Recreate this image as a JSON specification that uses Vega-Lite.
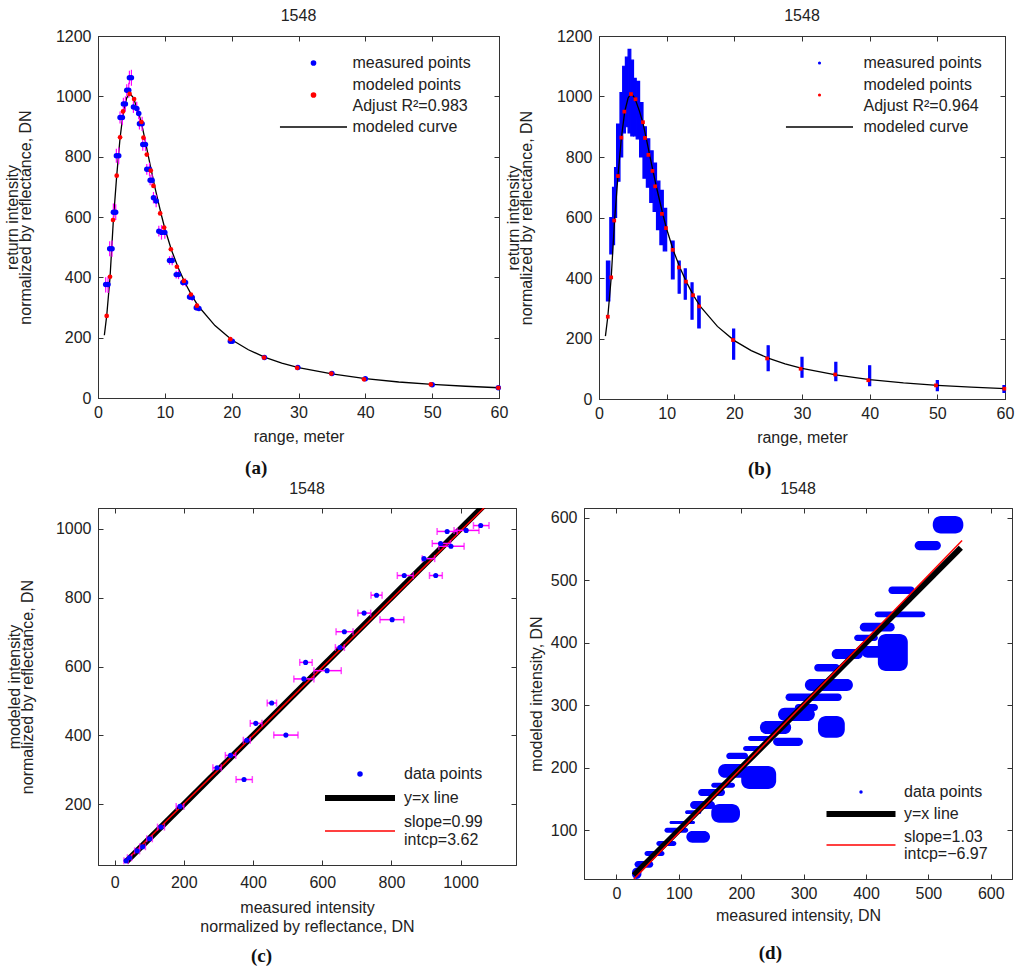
{
  "$schema": "https://vega.github.io/schema/vega-lite/v6.json",
  "background": "white",
  "padding": {"left": 3, "top": 7, "right": 2, "bottom": 2},
  "spacing": 1,
  "resolve": {"scale": {"color": "independent"}, "legend": {"color": "independent"}},
  "datasets": {
    "curve": [
      {"r": 0.95, "v": 208}, {"r": 1.3, "v": 272}, {"r": 1.8, "v": 400}, {"r": 2.3, "v": 590},
      {"r": 2.8, "v": 737}, {"r": 3.3, "v": 862}, {"r": 3.8, "v": 950}, {"r": 4.3, "v": 995},
      {"r": 4.75, "v": 1010}, {"r": 5.3, "v": 995}, {"r": 6, "v": 950}, {"r": 6.5, "v": 912},
      {"r": 7, "v": 860}, {"r": 7.5, "v": 805}, {"r": 8, "v": 752}, {"r": 8.5, "v": 700},
      {"r": 9, "v": 652}, {"r": 9.5, "v": 605}, {"r": 10, "v": 562}, {"r": 11, "v": 490},
      {"r": 12, "v": 432}, {"r": 13, "v": 383}, {"r": 14, "v": 341}, {"r": 15, "v": 305},
      {"r": 17.5, "v": 240}, {"r": 20, "v": 193}, {"r": 22.5, "v": 160}, {"r": 25, "v": 135},
      {"r": 27.5, "v": 116}, {"r": 30, "v": 101}, {"r": 35, "v": 80}, {"r": 40, "v": 64},
      {"r": 45, "v": 53}, {"r": 50, "v": 45}, {"r": 55, "v": 39}, {"r": 60, "v": 34}
    ],
    "a_meas": [
      {"r": 1.15, "v": 376, "lo": 350, "hi": 400}, {"r": 1.5, "v": 376, "lo": 348, "hi": 404},
      {"r": 1.75, "v": 495, "lo": 470, "hi": 520}, {"r": 2.1, "v": 495, "lo": 468, "hi": 522},
      {"r": 2.3, "v": 616, "lo": 585, "hi": 645}, {"r": 2.65, "v": 616, "lo": 590, "hi": 642},
      {"r": 2.75, "v": 803, "lo": 780, "hi": 826}, {"r": 3.1, "v": 803, "lo": 775, "hi": 830},
      {"r": 3.3, "v": 930, "lo": 910, "hi": 950}, {"r": 3.65, "v": 930, "lo": 905, "hi": 955},
      {"r": 3.8, "v": 975, "lo": 955, "hi": 995}, {"r": 4.1, "v": 975, "lo": 950, "hi": 1000},
      {"r": 4.3, "v": 1020, "lo": 1000, "hi": 1040}, {"r": 4.6, "v": 1020, "lo": 995, "hi": 1045},
      {"r": 4.7, "v": 1062, "lo": 1040, "hi": 1085}, {"r": 5.0, "v": 1062, "lo": 1035, "hi": 1088},
      {"r": 5.3, "v": 965, "lo": 945, "hi": 985}, {"r": 5.8, "v": 960, "lo": 938, "hi": 982},
      {"r": 6.1, "v": 943, "lo": 925, "hi": 962}, {"r": 6.2, "v": 909, "lo": 890, "hi": 928},
      {"r": 6.6, "v": 909, "lo": 885, "hi": 932}, {"r": 6.7, "v": 840, "lo": 820, "hi": 860},
      {"r": 7.1, "v": 840, "lo": 818, "hi": 862}, {"r": 7.3, "v": 758, "lo": 740, "hi": 776},
      {"r": 7.7, "v": 758, "lo": 735, "hi": 780}, {"r": 7.8, "v": 722, "lo": 705, "hi": 740},
      {"r": 8.1, "v": 722, "lo": 702, "hi": 742}, {"r": 8.3, "v": 664, "lo": 645, "hi": 683},
      {"r": 8.7, "v": 653, "lo": 632, "hi": 674}, {"r": 9.1, "v": 553, "lo": 535, "hi": 571},
      {"r": 9.5, "v": 549, "lo": 525, "hi": 573}, {"r": 10.0, "v": 549, "lo": 528, "hi": 570},
      {"r": 10.7, "v": 456, "lo": 442, "hi": 470}, {"r": 11.1, "v": 456, "lo": 440, "hi": 472},
      {"r": 11.7, "v": 409, "lo": 396, "hi": 422}, {"r": 12.05, "v": 409, "lo": 394, "hi": 424},
      {"r": 12.7, "v": 383, "lo": 372, "hi": 394}, {"r": 13.1, "v": 383, "lo": 370, "hi": 396},
      {"r": 13.7, "v": 335, "lo": 325, "hi": 345}, {"r": 14.1, "v": 333, "lo": 322, "hi": 344},
      {"r": 14.7, "v": 299, "lo": 290, "hi": 308}, {"r": 15.1, "v": 297, "lo": 288, "hi": 306},
      {"r": 19.8, "v": 188, "lo": 183, "hi": 193}, {"r": 20.1, "v": 188, "lo": 182, "hi": 194},
      {"r": 24.9, "v": 134, "lo": 130, "hi": 138}, {"r": 29.9, "v": 101, "lo": 98, "hi": 104},
      {"r": 35.0, "v": 81, "lo": 78, "hi": 84}, {"r": 40.0, "v": 64, "lo": 61, "hi": 67},
      {"r": 50.0, "v": 44, "lo": 42, "hi": 46}, {"r": 59.9, "v": 34, "lo": 32, "hi": 36}
    ],
    "a_mod": [
      {"r": 1.3, "v": 272}, {"r": 1.8, "v": 402}, {"r": 2.25, "v": 590}, {"r": 2.8, "v": 737},
      {"r": 3.3, "v": 864}, {"r": 3.75, "v": 950}, {"r": 4.73, "v": 1008}, {"r": 5.4, "v": 991},
      {"r": 6.5, "v": 915}, {"r": 6.8, "v": 863}, {"r": 7.3, "v": 807}, {"r": 7.9, "v": 754},
      {"r": 8.3, "v": 703}, {"r": 9.3, "v": 612}, {"r": 9.9, "v": 565}, {"r": 10.9, "v": 493},
      {"r": 11.8, "v": 435}, {"r": 12.85, "v": 388}, {"r": 13.9, "v": 343}, {"r": 14.8, "v": 306},
      {"r": 19.8, "v": 195}, {"r": 24.85, "v": 134}, {"r": 29.8, "v": 100}, {"r": 34.9, "v": 81},
      {"r": 39.8, "v": 62}, {"r": 49.8, "v": 45}, {"r": 59.9, "v": 34}
    ],
    "b_meas": [
      {"r1": 1.1, "r2": 1.6, "lo": 324, "hi": 456}, {"r1": 1.6, "r2": 2.0, "lo": 480, "hi": 600},
      {"r1": 2.0, "r2": 2.3, "lo": 510, "hi": 700}, {"r1": 2.3, "r2": 2.6, "lo": 600, "hi": 765},
      {"r1": 2.6, "r2": 3.1, "lo": 720, "hi": 909}, {"r1": 3.1, "r2": 3.5, "lo": 800, "hi": 1013},
      {"r1": 3.5, "r2": 3.9, "lo": 880, "hi": 1100}, {"r1": 3.9, "r2": 4.3, "lo": 900, "hi": 1130},
      {"r1": 4.3, "r2": 4.7, "lo": 880, "hi": 1156}, {"r1": 4.7, "r2": 5.1, "lo": 870, "hi": 1120},
      {"r1": 5.1, "r2": 5.5, "lo": 870, "hi": 1060}, {"r1": 5.5, "r2": 6.0, "lo": 860, "hi": 1050},
      {"r1": 6.0, "r2": 6.5, "lo": 800, "hi": 980}, {"r1": 6.5, "r2": 7.0, "lo": 730, "hi": 900},
      {"r1": 7.0, "r2": 7.5, "lo": 700, "hi": 860}, {"r1": 7.5, "r2": 8.0, "lo": 650, "hi": 820},
      {"r1": 8.0, "r2": 8.5, "lo": 620, "hi": 780}, {"r1": 8.5, "r2": 9.0, "lo": 560, "hi": 720},
      {"r1": 9.0, "r2": 9.5, "lo": 510, "hi": 690}, {"r1": 9.5, "r2": 10.0, "lo": 490, "hi": 630},
      {"r1": 10.7, "r2": 11.1, "lo": 397, "hi": 522}, {"r1": 11.7, "r2": 12.0, "lo": 350, "hi": 456},
      {"r1": 12.6, "r2": 12.9, "lo": 330, "hi": 430}, {"r1": 13.6, "r2": 13.9, "lo": 264, "hi": 384},
      {"r1": 14.6, "r2": 14.95, "lo": 235, "hi": 340}, {"r1": 19.75, "r2": 20.05, "lo": 132, "hi": 231},
      {"r1": 24.85, "r2": 25.15, "lo": 94, "hi": 176}, {"r1": 29.85, "r2": 30.15, "lo": 72, "hi": 138},
      {"r1": 34.85, "r2": 35.15, "lo": 61, "hi": 121}, {"r1": 39.85, "r2": 40.15, "lo": 44, "hi": 110},
      {"r1": 49.85, "r2": 50.15, "lo": 28, "hi": 61}, {"r1": 59.7, "r2": 60.0, "lo": 22, "hi": 44}
    ],
    "c_pts": [
      {"x": 33, "y": 36, "xlo": 27, "xhi": 39}, {"x": 43, "y": 45, "xlo": 37, "xhi": 49},
      {"x": 65, "y": 65, "xlo": 58, "xhi": 72}, {"x": 81, "y": 77, "xlo": 73, "xhi": 89},
      {"x": 101, "y": 100, "xlo": 93, "xhi": 109}, {"x": 134, "y": 134, "xlo": 124, "xhi": 144},
      {"x": 189, "y": 194, "xlo": 178, "xhi": 200}, {"x": 296, "y": 306, "xlo": 284, "xhi": 308},
      {"x": 335, "y": 342, "xlo": 320, "xhi": 350}, {"x": 374, "y": 272, "xlo": 351, "xhi": 398},
      {"x": 382, "y": 386, "xlo": 372, "xhi": 392}, {"x": 408, "y": 435, "xlo": 392, "xhi": 426},
      {"x": 454, "y": 494, "xlo": 441, "xhi": 468}, {"x": 495, "y": 401, "xlo": 460, "xhi": 530},
      {"x": 547, "y": 564, "xlo": 518, "xhi": 576}, {"x": 552, "y": 612, "xlo": 535, "xhi": 571},
      {"x": 614, "y": 588, "xlo": 576, "xhi": 655}, {"x": 651, "y": 655, "xlo": 638, "xhi": 664},
      {"x": 664, "y": 701, "xlo": 640, "xhi": 689}, {"x": 721, "y": 755, "xlo": 703, "xhi": 740},
      {"x": 757, "y": 807, "xlo": 741, "xhi": 773}, {"x": 802, "y": 736, "xlo": 767, "xhi": 836},
      {"x": 837, "y": 864, "xlo": 817, "xhi": 863}, {"x": 894, "y": 913, "xlo": 889, "xhi": 925},
      {"x": 928, "y": 864, "xlo": 910, "xhi": 947}, {"x": 942, "y": 957, "xlo": 918, "xhi": 971},
      {"x": 961, "y": 992, "xlo": 932, "xhi": 990}, {"x": 972, "y": 949, "xlo": 937, "xhi": 1010},
      {"x": 1016, "y": 995, "xlo": 981, "xhi": 1053}, {"x": 1058, "y": 1009, "xlo": 1037, "xhi": 1082}
    ],
    "c_yx": [{"x": 33, "y": 33}, {"x": 1075, "y": 1075}],
    "c_fit": [{"x": 33, "y": 36.3}, {"x": 1075, "y": 1067.9}],
    "d_blobs": [
      {"x1": 507, "x2": 556, "y1": 575, "y2": 603}, {"x1": 478, "x2": 520, "y1": 548, "y2": 563},
      {"x1": 436, "x2": 478, "y1": 478, "y2": 490}, {"x1": 414, "x2": 495, "y1": 441, "y2": 450},
      {"x1": 390, "x2": 446, "y1": 418, "y2": 432}, {"x1": 381, "x2": 419, "y1": 403, "y2": 413},
      {"x1": 419, "x2": 467, "y1": 355, "y2": 414}, {"x1": 393, "x2": 441, "y1": 376, "y2": 395},
      {"x1": 345, "x2": 395, "y1": 374, "y2": 390}, {"x1": 317, "x2": 358, "y1": 354, "y2": 366},
      {"x1": 302, "x2": 379, "y1": 323, "y2": 342}, {"x1": 271, "x2": 361, "y1": 307, "y2": 319},
      {"x1": 286, "x2": 323, "y1": 291, "y2": 302}, {"x1": 259, "x2": 318, "y1": 275, "y2": 296},
      {"x1": 323, "x2": 366, "y1": 248, "y2": 283}, {"x1": 230, "x2": 280, "y1": 254, "y2": 275},
      {"x1": 251, "x2": 299, "y1": 235, "y2": 248}, {"x1": 211, "x2": 248, "y1": 243, "y2": 251},
      {"x1": 203, "x2": 232, "y1": 227, "y2": 235}, {"x1": 176, "x2": 211, "y1": 214, "y2": 224},
      {"x1": 163, "x2": 211, "y1": 184, "y2": 206}, {"x1": 200, "x2": 256, "y1": 166, "y2": 203},
      {"x1": 152, "x2": 190, "y1": 168, "y2": 176}, {"x1": 131, "x2": 174, "y1": 155, "y2": 166},
      {"x1": 118, "x2": 158, "y1": 134, "y2": 147}, {"x1": 152, "x2": 198, "y1": 112, "y2": 142},
      {"x1": 110, "x2": 136, "y1": 126, "y2": 132}, {"x1": 85, "x2": 126, "y1": 110, "y2": 115},
      {"x1": 77, "x2": 115, "y1": 96, "y2": 104}, {"x1": 112, "x2": 150, "y1": 80, "y2": 99},
      {"x1": 64, "x2": 96, "y1": 75, "y2": 83}, {"x1": 45, "x2": 77, "y1": 59, "y2": 67},
      {"x1": 29, "x2": 59, "y1": 40, "y2": 51}, {"x1": 25, "x2": 40, "y1": 22, "y2": 40}
    ],
    "d_yx": [{"x": 28, "y": 28}, {"x": 552, "y": 552}],
    "d_fit": [{"x": 28, "y": 21.9}, {"x": 554, "y": 563.7}]
  },
  "vconcat": [
    {
      "spacing": -5,
      "resolve": {"scale": {"color": "independent"}, "legend": {"color": "independent"}},
      "hconcat": [
        {
          "title": {"text": "(a)", "orient": "bottom", "anchor": "middle", "frame": "bounds", "font": "Liberation Serif", "fontSize": 19, "fontWeight": "bold", "color": "#111", "offset": 14},
          "vconcat": [
            {
              "title": {"text": "1548", "offset": 4},
              "width": 401,
              "height": 362,
              "resolve": {"axis": {"x": "independent", "y": "independent"}},
              "layer": [
                {
                  "data": {"name": "curve"},
                  "mark": {"type": "line", "strokeWidth": 1.3},
                  "encoding": {
                    "x": {"field": "r", "type": "quantitative", "scale": {"domain": [0, 60], "nice": false},
                          "axis": {"orient": "top", "labels": false, "title": null, "values": [0, 10, 20, 30, 40, 50, 60]}},
                    "y": {"field": "v", "type": "quantitative", "scale": {"domain": [0, 1200], "nice": false},
                          "axis": {"orient": "right", "labels": false, "title": null, "values": [0, 200, 400, 600, 800, 1000, 1200]}},
                    "color": {
                      "datum": "modeled curve",
                      "scale": {"domain": ["measured points", "modeled points", "modeled curve"], "range": ["#0000ff", "#ff0000", "#000000"]},
                      "legend": {
                        "orient": "none", "legendX": 177.5, "legendY": 19, "title": null,
                        "symbolSize": 100, "symbolOffset": 30, "labelOffset": 31, "rowPadding": 5,
                        "labelExpr": "datum.value == 'modeled points' ? ['modeled points', 'Adjust R²=0.983'] : datum.value",
                        "encode": {
                          "labels": {"update": {"lineHeight": {"value": 21}, "dy": {"signal": "datum.value == 'modeled points' ? -10.5 : 0"}}},
                          "symbols": {"update": {
                            "shape": {"signal": "datum.value == 'modeled curve' ? 'stroke' : 'circle'"},
                            "size": {"signal": "datum.value == 'modeled curve' ? 4500 : 32"},
                            "strokeWidth": {"signal": "datum.value == 'modeled curve' ? 1.3 : 0"},
                            "stroke": {"signal": "datum.value == 'modeled curve' ? '#000000' : null"},
                            "fill": {"signal": "datum.value == 'measured points' ? '#0000ff' : datum.value == 'modeled points' ? '#ff0000' : null"},
                            "opacity": {"value": 1}
                          }}
                        }
                      }
                    }
                  }
                },
                {
                  "data": {"name": "a_meas"},
                  "mark": {"type": "rule", "color": "#ff00ff", "strokeWidth": 1.2},
                  "encoding": {
                    "x": {"field": "r", "type": "quantitative", "axis": {"orient": "bottom", "title": "range, meter", "titlePadding": 8, "values": [0, 10, 20, 30, 40, 50, 60]}},
                    "y": {"field": "lo", "type": "quantitative", "axis": {"orient": "left", "title": ["return intensity", "normalized by reflectance, DN"], "titlePadding": 22, "titleLineHeight": 13, "values": [0, 200, 400, 600, 800, 1000, 1200]}},
                    "y2": {"field": "hi"}
                  }
                },
                {
                  "data": {"name": "a_meas"},
                  "mark": {"type": "point", "filled": true, "size": 30, "opacity": 1},
                  "encoding": {
                    "x": {"field": "r", "type": "quantitative", "axis": null},
                    "y": {"field": "v", "type": "quantitative", "axis": null},
                    "color": {"datum": "measured points"}
                  }
                },
                {
                  "data": {"name": "a_mod"},
                  "mark": {"type": "point", "filled": true, "size": 22, "opacity": 1},
                  "encoding": {
                    "x": {"field": "r", "type": "quantitative", "axis": null},
                    "y": {"field": "v", "type": "quantitative", "axis": null},
                    "color": {"datum": "modeled points"}
                  }
                }
              ]
            }
          ]
        },
        {
          "title": {"text": "(b)", "orient": "bottom", "anchor": "middle", "frame": "bounds", "font": "Liberation Serif", "fontSize": 19, "fontWeight": "bold", "color": "#111", "offset": 14},
          "vconcat": [
            {
              "title": {"text": "1548", "offset": 4},
              "width": 406,
              "height": 363,
              "resolve": {"axis": {"x": "independent", "y": "independent"}},
              "layer": [
                {
                  "data": {"name": "b_meas"},
                  "mark": {"type": "rect", "color": "#0000ff", "stroke": "#0000ff", "strokeWidth": 1.2, "opacity": 1},
                  "encoding": {
                    "x": {"field": "r1", "type": "quantitative", "scale": {"domain": [0, 60], "nice": false},
                          "axis": {"orient": "bottom", "title": "range, meter", "titlePadding": 8, "values": [0, 10, 20, 30, 40, 50, 60]}},
                    "x2": {"field": "r2"},
                    "y": {"field": "lo", "type": "quantitative", "scale": {"domain": [0, 1200], "nice": false},
                          "axis": {"orient": "left", "title": ["return intensity", "normalized by reflectance, DN"], "titlePadding": 22, "titleLineHeight": 13, "values": [0, 200, 400, 600, 800, 1000, 1200]}},
                    "y2": {"field": "hi"}
                  }
                },
                {
                  "data": {"name": "curve"},
                  "mark": {"type": "line", "strokeWidth": 1.3},
                  "encoding": {
                    "x": {"field": "r", "type": "quantitative",
                          "axis": {"orient": "top", "labels": false, "title": null, "values": [0, 10, 20, 30, 40, 50, 60]}},
                    "y": {"field": "v", "type": "quantitative",
                          "axis": {"orient": "right", "labels": false, "title": null, "values": [0, 200, 400, 600, 800, 1000, 1200]}},
                    "color": {
                      "datum": "modeled curve",
                      "scale": {"domain": ["measured points", "modeled points", "modeled curve"], "range": ["#0000ff", "#ff0000", "#000000"]},
                      "legend": {
                        "orient": "none", "legendX": 182.5, "legendY": 19, "title": null,
                        "symbolSize": 100, "symbolOffset": 30, "labelOffset": 36, "rowPadding": 5,
                        "labelExpr": "datum.value == 'modeled points' ? ['modeled points', 'Adjust R²=0.964'] : datum.value",
                        "encode": {
                          "labels": {"update": {"lineHeight": {"value": 21}, "dy": {"signal": "datum.value == 'modeled points' ? -10.5 : 0"}}},
                          "symbols": {"update": {
                            "shape": {"signal": "datum.value == 'modeled curve' ? 'stroke' : 'circle'"},
                            "size": {"signal": "datum.value == 'modeled curve' ? 4500 : 10"},
                            "strokeWidth": {"signal": "datum.value == 'modeled curve' ? 1.3 : 0"},
                            "stroke": {"signal": "datum.value == 'modeled curve' ? '#000000' : null"},
                            "fill": {"signal": "datum.value == 'measured points' ? '#0000ff' : datum.value == 'modeled points' ? '#ff0000' : null"},
                            "opacity": {"value": 1}
                          }}
                        }
                      }
                    }
                  }
                },
                {
                  "data": {"name": "a_mod"},
                  "mark": {"type": "point", "filled": true, "size": 14, "shape": "square", "opacity": 1},
                  "encoding": {
                    "x": {"field": "r", "type": "quantitative", "axis": null},
                    "y": {"field": "v", "type": "quantitative", "axis": null},
                    "color": {"datum": "modeled points"}
                  }
                }
              ]
            }
          ]
        }
      ]
    },
    {
      "spacing": 10,
      "resolve": {"scale": {"color": "independent"}, "legend": {"color": "independent"}},
      "hconcat": [
        {
          "title": {"text": "(c)", "orient": "bottom", "anchor": "middle", "frame": "bounds", "font": "Liberation Serif", "fontSize": 19, "fontWeight": "bold", "color": "#111", "offset": 12},
          "vconcat": [
            {
              "title": "1548",
              "width": 418,
              "height": 357,
              "resolve": {"axis": {"x": "independent", "y": "independent"}},
              "layer": [
                {
                  "data": {"name": "c_yx"},
                  "mark": {"type": "line", "strokeWidth": 6, "clip": true},
                  "encoding": {
                    "x": {"field": "x", "type": "quantitative", "scale": {"domain": [-48, 1160], "nice": false, "zero": false},
                          "axis": {"orient": "top", "labels": false, "title": null, "values": [0, 200, 400, 600, 800, 1000]}},
                    "y": {"field": "y", "type": "quantitative", "scale": {"domain": [24, 1060], "nice": false, "zero": false},
                          "axis": {"orient": "right", "labels": false, "title": null, "values": [200, 400, 600, 800, 1000]}},
                    "color": {
                      "datum": "y=x line",
                      "scale": {"domain": ["data points", "y=x line", "slope=0.99"], "range": ["#0000ff", "#000000", "#ff0000"]},
                      "legend": {
                        "orient": "none", "legendX": 224, "legendY": 258, "title": null,
                        "symbolSize": 100, "symbolOffset": 30, "labelOffset": 36, "rowPadding": 4,
                        "labelExpr": "datum.value == 'slope=0.99' ? ['slope=0.99', 'intcp=3.62'] : datum.value",
                        "encode": {
                          "labels": {"update": {"lineHeight": {"value": 18}, "dy": {"signal": "datum.value == 'slope=0.99' ? -9 : 0"}}},
                          "symbols": {"update": {
                            "shape": {"signal": "datum.value == 'data points' ? 'circle' : 'stroke'"},
                            "size": {"signal": "datum.value == 'data points' ? 30 : 4900"},
                            "strokeWidth": {"signal": "datum.value == 'y=x line' ? 6 : datum.value == 'slope=0.99' ? 1.5 : 0"},
                            "stroke": {"signal": "datum.value == 'y=x line' ? '#000000' : datum.value == 'slope=0.99' ? '#ff0000' : null"},
                            "fill": {"signal": "datum.value == 'data points' ? '#0000ff' : null"},
                            "opacity": {"value": 1}
                          }}
                        }
                      }
                    }
                  }
                },
                {
                  "data": {"name": "c_fit"},
                  "mark": {"type": "line", "strokeWidth": 1.5, "clip": true},
                  "encoding": {
                    "x": {"field": "x", "type": "quantitative", "axis": null},
                    "y": {"field": "y", "type": "quantitative", "axis": null},
                    "color": {"datum": "slope=0.99"}
                  }
                },
                {
                  "data": {"name": "c_pts"},
                  "mark": {"type": "rule", "color": "#ff00ff", "strokeWidth": 1.5},
                  "encoding": {
                    "x": {"field": "xlo", "type": "quantitative",
                          "axis": {"orient": "bottom", "title": ["measured intensity", "normalized by reflectance, DN"], "labelPadding": 14, "titlePadding": 9, "titleLineHeight": 19, "values": [0, 200, 400, 600, 800, 1000]}},
                    "x2": {"field": "xhi"},
                    "y": {"field": "y", "type": "quantitative",
                          "axis": {"orient": "left", "title": ["modeled intensity", "normalized by reflectance, DN"], "titlePadding": 20, "titleLineHeight": 13, "values": [200, 400, 600, 800, 1000]}}
                  }
                },
                {
                  "data": {"name": "c_pts"},
                  "mark": {"type": "tick", "color": "#ff00ff", "orient": "vertical", "size": 7, "thickness": 1.5},
                  "encoding": {
                    "x": {"field": "xlo", "type": "quantitative", "axis": null},
                    "y": {"field": "y", "type": "quantitative", "axis": null}
                  }
                },
                {
                  "data": {"name": "c_pts"},
                  "mark": {"type": "tick", "color": "#ff00ff", "orient": "vertical", "size": 7, "thickness": 1.5},
                  "encoding": {
                    "x": {"field": "xhi", "type": "quantitative", "axis": null},
                    "y": {"field": "y", "type": "quantitative", "axis": null}
                  }
                },
                {
                  "data": {"name": "c_pts"},
                  "mark": {"type": "point", "filled": true, "size": 26, "opacity": 1},
                  "encoding": {
                    "x": {"field": "x", "type": "quantitative", "axis": null},
                    "y": {"field": "y", "type": "quantitative", "axis": null},
                    "color": {"datum": "data points"}
                  }
                }
              ]
            }
          ]
        },
        {
          "title": {"text": "(d)", "orient": "bottom", "anchor": "middle", "frame": "bounds", "font": "Liberation Serif", "fontSize": 19, "fontWeight": "bold", "color": "#111", "offset": 20},
          "vconcat": [
            {
              "title": "1548",
              "width": 428,
              "height": 371,
              "resolve": {"axis": {"x": "independent", "y": "independent"}},
              "layer": [
                {
                  "data": {"name": "d_blobs"},
                  "mark": {"type": "rect", "color": "#0000ff", "cornerRadius": 8, "opacity": 1},
                  "encoding": {
                    "x": {"field": "x1", "type": "quantitative", "scale": {"domain": [-52, 634], "nice": false, "zero": false},
                          "axis": {"orient": "bottom", "title": "measured intensity, DN", "values": [0, 100, 200, 300, 400, 500, 600]}},
                    "x2": {"field": "x2"},
                    "y": {"field": "y1", "type": "quantitative", "scale": {"domain": [22, 615.6], "nice": false, "zero": false},
                          "axis": {"orient": "left", "title": "modeled intensity, DN", "values": [100, 200, 300, 400, 500, 600]}},
                    "y2": {"field": "y2"}
                  }
                },
                {
                  "data": {"name": "d_yx"},
                  "mark": {"type": "line", "strokeWidth": 6, "clip": true},
                  "encoding": {
                    "x": {"field": "x", "type": "quantitative",
                          "axis": {"orient": "top", "labels": false, "title": null, "values": [0, 100, 200, 300, 400, 500, 600]}},
                    "y": {"field": "y", "type": "quantitative",
                          "axis": {"orient": "right", "labels": false, "title": null, "values": [100, 200, 300, 400, 500, 600]}},
                    "color": {
                      "datum": "y=x line",
                      "scale": {"domain": ["data points", "y=x line", "slope=1.03"], "range": ["#0000ff", "#000000", "#ff0000"]},
                      "legend": {
                        "orient": "none", "legendX": 239, "legendY": 276, "title": null,
                        "symbolSize": 100, "symbolOffset": 30, "labelOffset": 35, "rowPadding": 2,
                        "labelExpr": "datum.value == 'slope=1.03' ? ['slope=1.03', 'intcp=−6.97'] : datum.value",
                        "encode": {
                          "labels": {"update": {"lineHeight": {"value": 17}, "dy": {"signal": "datum.value == 'slope=1.03' ? -8.5 : 0"}}},
                          "symbols": {"update": {
                            "shape": {"signal": "datum.value == 'data points' ? 'circle' : 'stroke'"},
                            "size": {"signal": "datum.value == 'data points' ? 12 : 4760"},
                            "strokeWidth": {"signal": "datum.value == 'y=x line' ? 6 : datum.value == 'slope=1.03' ? 1.5 : 0"},
                            "stroke": {"signal": "datum.value == 'y=x line' ? '#000000' : datum.value == 'slope=1.03' ? '#ff0000' : null"},
                            "fill": {"signal": "datum.value == 'data points' ? '#0000ff' : null"},
                            "opacity": {"value": 1}
                          }}
                        }
                      }
                    }
                  }
                },
                {
                  "data": {"name": "d_fit"},
                  "mark": {"type": "line", "strokeWidth": 1.5, "clip": true},
                  "encoding": {
                    "x": {"field": "x", "type": "quantitative", "axis": null},
                    "y": {"field": "y", "type": "quantitative", "axis": null},
                    "color": {"datum": "slope=1.03"}
                  }
                }
              ]
            }
          ]
        }
      ]
    }
  ],
  "config": {
    "font": "Liberation Sans",
    "view": {"stroke": "#333", "strokeWidth": 1},
    "axis": {
      "grid": false, "domainColor": "#333", "tickColor": "#333", "tickSize": -5,
      "format": "d",
      "labelFont": "Liberation Sans", "labelFontSize": 16, "labelColor": "#222",
      "labelFlush": false, "labelOverlap": false,
      "titleFont": "Liberation Sans", "titleFontSize": 16, "titleFontWeight": "normal", "titleColor": "#222",
      "titlePadding": 6, "titleLineHeight": 18
    },
    "axisX": {"labelPadding": 11},
    "axisY": {"labelPadding": 12},
    "title": {"font": "Liberation Sans", "fontSize": 16, "fontWeight": "normal", "color": "#222", "anchor": "middle", "frame": "group", "offset": 11},
    "legend": {"labelFont": "Liberation Sans", "labelFontSize": 16, "labelColor": "#222", "padding": 0, "labelLimit": 0}
  }
}
